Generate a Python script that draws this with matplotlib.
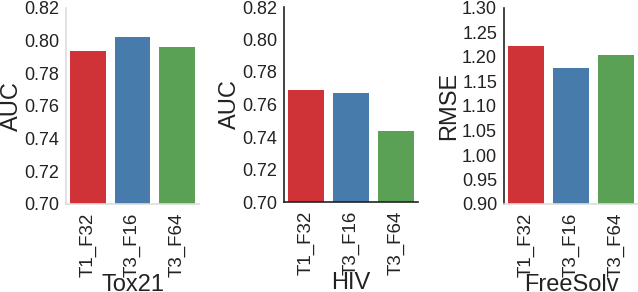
import matplotlib
matplotlib.use("Agg")
import matplotlib.pyplot as plt
import numpy as np

plt.rcParams["font.family"] = ["Liberation Sans", "DejaVu Sans"]

models = ["T1_F32", "T3_F16", "T3_F64"]
colors = ["#cf3337", "#467bab", "#5aa055"]

tox21_auc = [0.7937, 0.8023, 0.7962]
hiv_auc = [0.769, 0.7672, 0.7438]
freesolv_rmse = [1.2226, 1.178, 1.204]

panels = [
    # (values, ylabel, xlabel, ylim, yticks, rect, left spine, bottom spine)
    (tox21_auc, "AUC", "Tox21", (0.70, 0.82), np.arange(0.70, 0.821, 0.02),
     [66 / 638, 1 - 204 / 292, 133 / 638, 196 / 292], "#dddddd", "#dddddd"),
    (hiv_auc, "AUC", "HIV", (0.70, 0.82), np.arange(0.70, 0.821, 0.02),
     [284 / 638, 1 - 202 / 292, 134 / 638, 195 / 292], "#222222", "#222222"),
    (freesolv_rmse, "RMSE", "FreeSolv", (0.90, 1.30), np.arange(0.90, 1.301, 0.05),
     [504 / 638, 1 - 204 / 292, 134 / 638, 196 / 292], "#222222", "#dddddd"),
]

fig = plt.figure(figsize=(6.38, 2.92), dpi=100)

for vals, ylab, xlab, ylim, yticks, rect, lcol, bcol in panels:
    ax = fig.add_axes(rect)
    x = np.arange(len(models))
    ax.bar(x, vals, width=0.8, color=colors)
    ax.set_xlim(-0.5, len(models) - 0.5)
    ax.set_ylim(*ylim)
    ax.set_yticks(yticks)
    ax.set_yticklabels([f"{t:.2f}" for t in yticks], fontsize=13, color="#222")
    ax.set_xticks(x)
    ax.set_xticklabels(models, rotation=90, fontsize=13.5, color="#222")
    ax.tick_params(axis="y", length=0, pad=5)
    ax.tick_params(axis="x", length=0, pad=6)
    ax.set_ylabel(ylab, fontsize=17, color="#222", labelpad=1)
    ax.set_xlabel(xlab, fontsize=17, color="#222", labelpad=-2)
    ax.spines["top"].set_visible(False)
    ax.spines["right"].set_visible(False)
    ax.spines["left"].set_color(lcol)
    ax.spines["bottom"].set_color(bcol)
    ax.spines["left"].set_linewidth(1.2)
    ax.spines["bottom"].set_linewidth(1.2)

fig.savefig("out.png", dpi=100)
plt.close(fig)
